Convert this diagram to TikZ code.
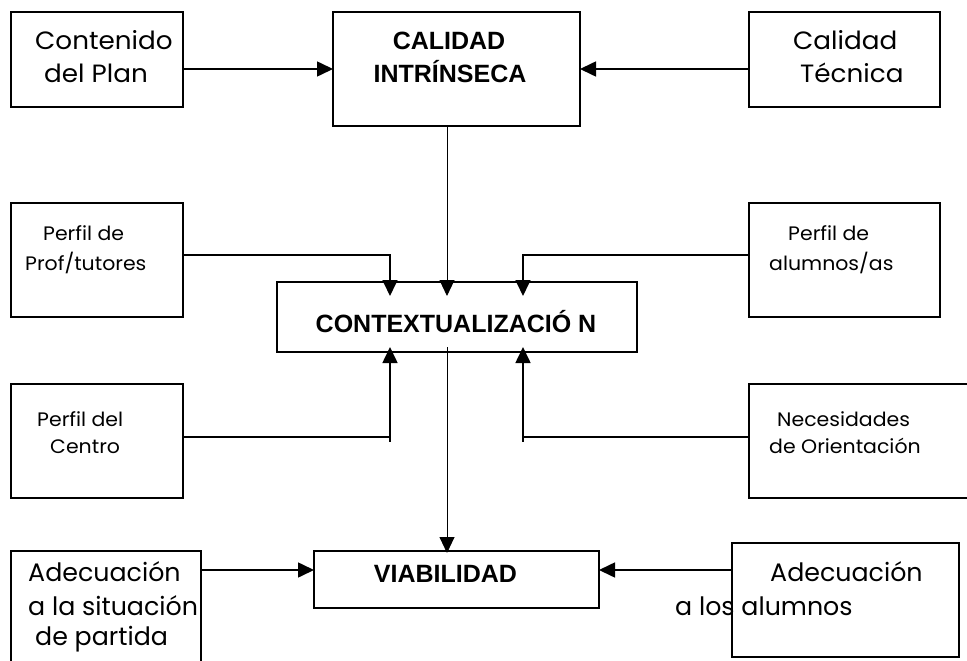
\documentclass[tikz,border=0pt]{standalone}
\usepackage{fontspec}
\setmainfont{Poppins}
\newfontfamily\widefam{Poppins}[FakeStretch=1.05]
\newfontfamily\boldfam{Liberation Sans}
\usetikzlibrary{arrows.meta,calc}
\begin{document}
\begin{tikzpicture}[x=1pt,y=-1pt,
  box/.style={draw,line width=1.8pt,inner sep=0pt,outer sep=0pt},
  conn/.style={line width=1.6pt,-{Triangle[length=16pt,width=15pt]}},
  thin/.style={line width=0.9pt,-{Triangle[length=16pt,width=15pt]}},
  lbl/.style={anchor=base west,inner sep=0pt,font=\widefam\fontsize{25}{28}\selectfont},
  lbls/.style={anchor=base west,inner sep=0pt,font=\widefam\fontsize{19.5}{22}\selectfont},
  lblb/.style={anchor=base west,inner sep=0pt,font=\fontsize{25.3}{28}\selectfont},
  title/.style={anchor=base,inner sep=0pt,font=\boldfam\bfseries\fontsize{25}{28}\selectfont}]
\useasboundingbox (0,0) rectangle (967,661);
\clip (0,0) rectangle (967,661);
\fill[white] (0,0) rectangle (967,661);
% boxes
\node[box,minimum width=172pt,minimum height=95pt] (cont) at (97,59.5) {};
\node[box,minimum width=247pt,minimum height=114pt] (cal) at (456.5,69) {};
\node[box,minimum width=191pt,minimum height=95pt] (tec) at (844.5,59.5) {};
\node[box,minimum width=172pt,minimum height=114pt] (prof) at (97,260) {};
\node[box,minimum width=360pt,minimum height=70pt] (ctx) at (457,317) {};
\node[box,minimum width=191pt,minimum height=114pt] (alu) at (844.5,260) {};
\node[box,minimum width=172pt,minimum height=114pt] (cen) at (97,441) {};
\node[box,minimum width=226pt,minimum height=114pt] (nec) at (862,441) {};
\node[box,minimum width=285pt,minimum height=57pt] (via) at (456.5,579.5) {};
\node[box,minimum width=190pt,minimum height=129pt] (sit) at (106,615.5) {};
\node[box,minimum width=227pt,minimum height=114pt] (aal) at (845.5,600) {};
% helper coordinates
\coordinate (mx) at (447,0);
\coordinate (lx) at (390,0);
\coordinate (rx) at (523,0);
\coordinate (ytop) at (0,255);
\coordinate (ybot) at (0,437);
\coordinate (yvia) at (0,570);
% texts
\node[lbl] (t1a) at (35,50) {Contenido};
\node[lbl] (t1b) at (44,83) {del Plan};
\node[title] (t2a) at (449,50) {CALIDAD};
\node[title] (t2b) at (450,83) {INTRÍNSECA};
\node[lbl] (t3a) at (793,50) {Calidad};
\node[lbl] (t3b) at (800,83) {Técnica};
\node[lbls] (t4a) at (43,240) {Perfil de};
\node[lbls] (t4b) at (25,270) {Prof/tutores};
\node[title] (t5) at (456,332) {CONTEXTUALIZACIÓ N};
\node[lbls] (t6a) at (788,240) {Perfil de};
\node[lbls] (t6b) at (769,270) {alumnos/as};
\node[lbls] (t7a) at (37,426) {Perfil del};
\node[lbls] (t7b) at (50,453) {Centro};
\node[lbls] (t8a) at (777,426) {Necesidades};
\node[lbls] (t8b) at (769,453) {de Orientación};
\node[title] (t9) at (445.5,582) {VIABILIDAD};
\node[lblb] (t10a) at (28,581) {Adecuación};
\node[lblb] (t10b) at (28,615) {a la situación};
\node[lblb] (t10c) at (35,645) {de partida};
\node[lblb] (t11a) at (770,581) {Adecuación};
\node[lblb] (t11b) at (675,615) {a los alumnos};
% connectors
\draw[conn] (cont.east |- cal.center) -- (cal.west);
\draw[conn] (tec.west |- cal.center) -- (cal.east);
\draw[thin] (cal.south -| mx) -- ($(ctx.north -| mx)+(0,14)$);
\draw[conn] (prof.east |- ytop) -| ($(ctx.north -| lx)+(0,14)$);
\draw[conn] (alu.west |- ytop) -| ($(ctx.north -| rx)+(0,14)$);
\draw[conn] (cen.east |- ybot) -| ($(ctx.south -| lx)+(0,-5)$);
\draw[line width=1.6pt] (lx |- ybot) -- ($(lx |- ybot)+(0,5)$);
\draw[conn] (nec.west |- ybot) -| ($(ctx.south -| rx)+(0,-5)$);
\draw[line width=1.6pt] (rx |- ybot) -- ($(rx |- ybot)+(0,5)$);
\draw[thin] ($(ctx.south -| mx)+(0,-5)$) -- ($(via.north -| mx)+(0,2)$);
\draw[conn] (sit.east |- yvia) -- (via.west |- yvia);
\draw[conn] (aal.west |- yvia) -- (via.east |- yvia);
\end{tikzpicture}
\end{document}
